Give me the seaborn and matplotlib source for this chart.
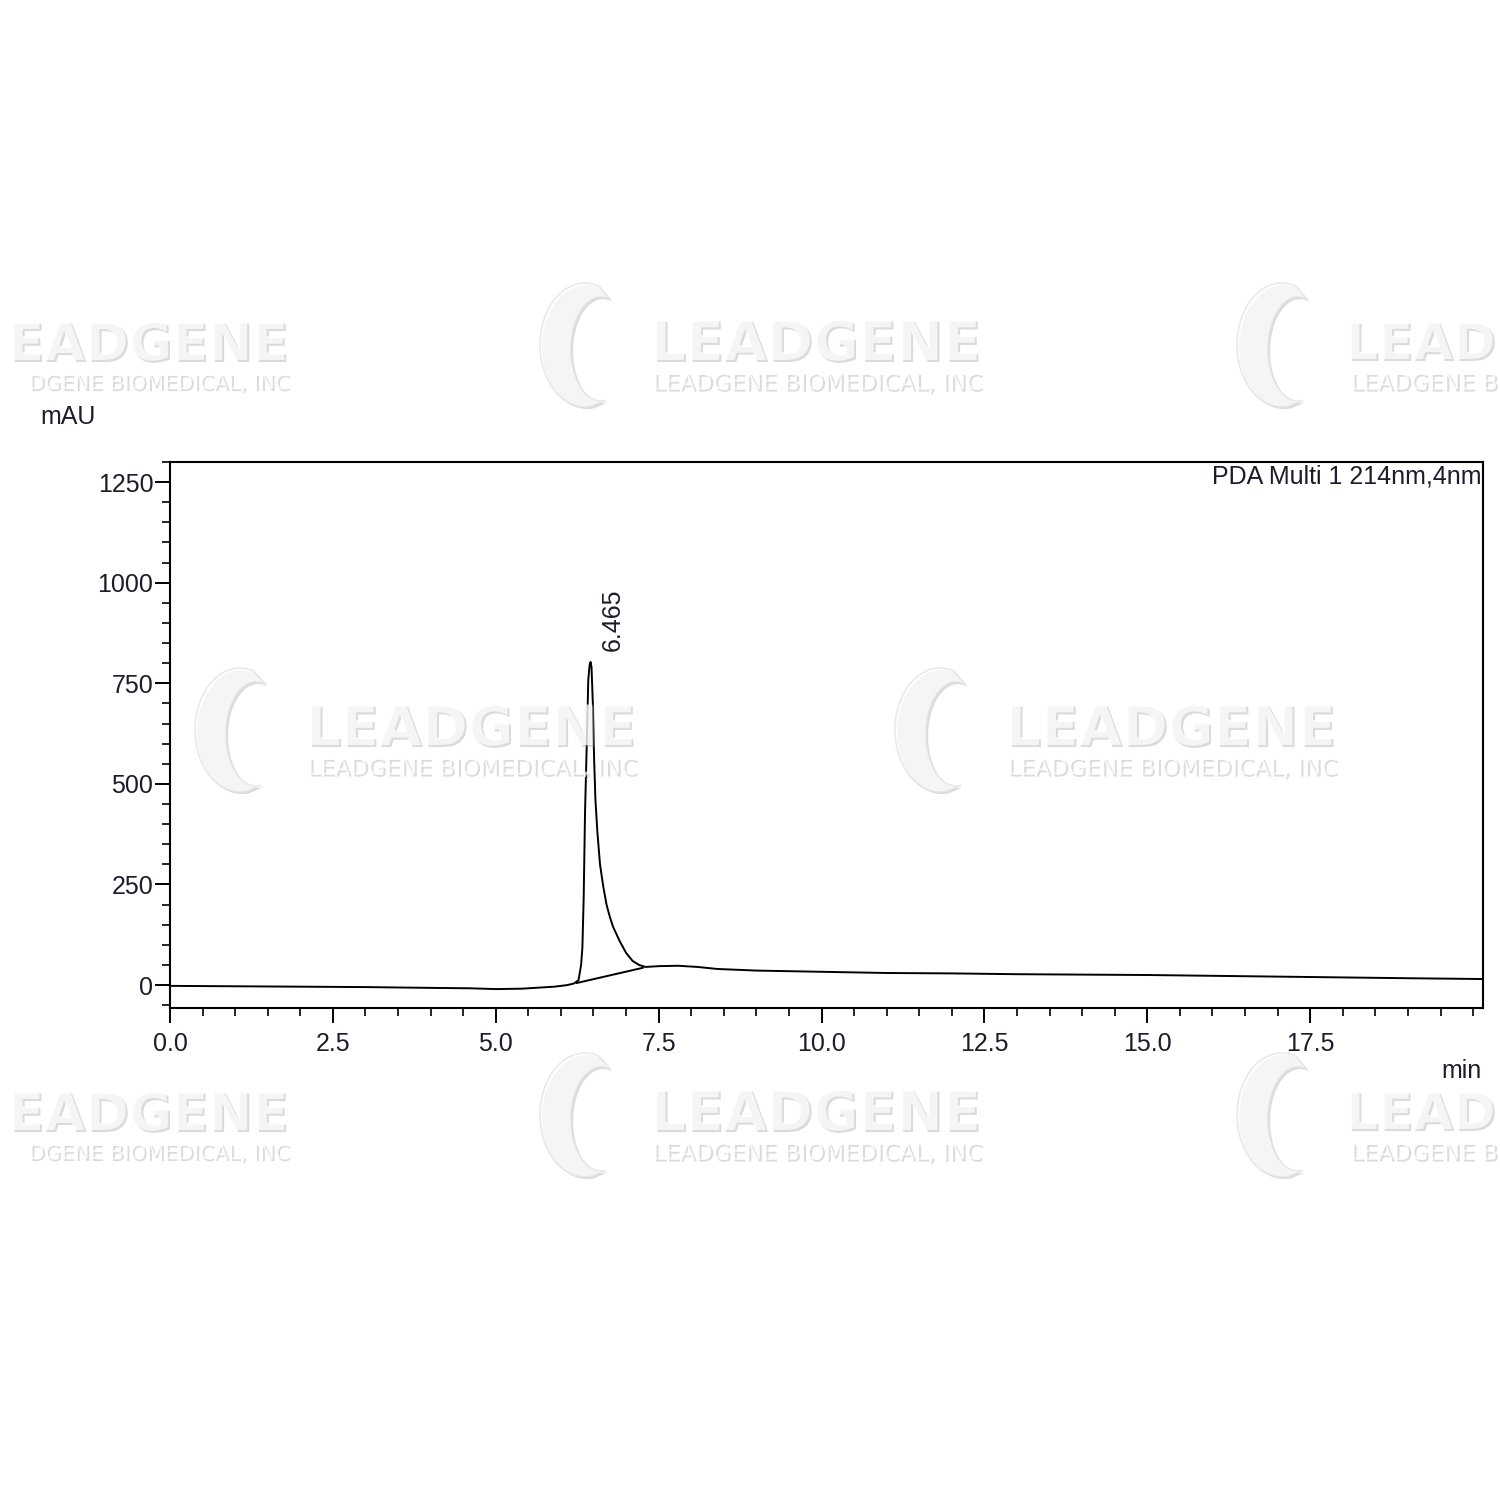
import numpy as np
import pandas as pd
import matplotlib
matplotlib.use("Agg")
import matplotlib.pyplot as plt
import matplotlib.patheffects as pe
from matplotlib.patches import Polygon
from matplotlib.ticker import MultipleLocator, FormatStrFormatter
import seaborn as sns

# chromatogram (time in min, signal in mAU)
time_min = [0.0, 1.0, 2.0, 3.0, 4.0, 4.6, 5.0, 5.4, 5.7, 5.9, 6.1, 6.2, 6.27,
            6.31, 6.33, 6.35, 6.37, 6.40, 6.42, 6.44, 6.455, 6.47, 6.49, 6.51,
            6.53, 6.56, 6.60, 6.65, 6.70, 6.75, 6.80, 6.90, 7.00, 7.10, 7.20,
            7.30, 7.50, 7.80, 8.10, 8.40, 9.0, 10.0, 11.0, 12.0, 13.0, 14.0,
            15.0, 16.0, 17.0, 18.0, 19.0, 20.15]
signal_mau = [-2, -3, -4, -5, -7, -8, -10, -9, -6, -4, 0, 4, 12,
              50, 94, 220, 427, 620, 758, 795, 803, 790, 700, 560,
              460, 380, 300, 245, 200, 170, 145, 110, 80, 60, 50,
              45, 47, 48, 45, 40, 36, 33, 30, 29, 27, 26,
              25, 23, 21, 19, 17, 15]

# integration baseline under the peak
base_time = [6.24, 7.26]
base_mau = [5, 43]

peak_rt = "6.465"
channel = "PDA Multi 1 214nm,4nm"

df = pd.DataFrame({"time": time_min, "mAU": signal_mau})
bl = pd.DataFrame({"time": base_time, "mAU": base_mau})

sns.set_style("ticks")
plt.rcParams["font.family"] = ["Liberation Sans", "DejaVu Sans"]

fig = plt.figure(figsize=(15, 15), dpi=100)
ax = fig.add_axes([0.1133, 0.328, 0.8753, 0.364])

sns.lineplot(data=df, x="time", y="mAU", ax=ax, color="black", linewidth=1.4, sort=False)
sns.lineplot(data=bl, x="time", y="mAU", ax=ax, color="black", linewidth=1.4, sort=False)

ax.set_xlim(0, 20.15)
ax.set_ylim(-57, 1300)
ax.xaxis.set_minor_locator(MultipleLocator(0.5))
ax.yaxis.set_major_locator(MultipleLocator(250))
ax.yaxis.set_minor_locator(MultipleLocator(50))
ax.set_xticks([0, 2.5, 5, 7.5, 10, 12.5, 15, 17.5])
ax.xaxis.set_major_formatter(FormatStrFormatter("%.1f"))
ax.yaxis.set_major_formatter(FormatStrFormatter("%d"))

ax.tick_params(which="major", direction="out", length=11, width=1.4, labelsize=18,
               colors="black", labelcolor="#1c1c2c")
ax.tick_params(axis="y", which="major", pad=1)
ax.tick_params(axis="x", which="major", pad=6)
ax.tick_params(which="minor", direction="out", length=6, width=1.4)
for s in ax.spines.values():
    s.set_visible(True)
    s.set_linewidth(1.5)
    s.set_color("black")

ax.set_xlabel("")
ax.set_ylabel("")

ax.text(6.79, 830, peak_rt, rotation=90, ha="center", va="bottom", fontsize=18, color="#1c1c2c")
ax.text(0.999, 0.995, channel, transform=ax.transAxes, ha="right", va="top",
        fontsize=18, color="#1c1c2c")

fig.text(40 / 1500, 1 - 417 / 1500, "mAU", ha="left", va="center", fontsize=18, color="#1c1c2c")
fig.text(1482 / 1500, 1 - 1071 / 1500, "min", ha="right", va="center", fontsize=18, color="#1c1c2c")

# faint LEADGENE watermarks (white with a soft grey shadow, semi-transparent)
shadow = [pe.SimplePatchShadow(offset=(1.5, -1.5), shadow_rgbFace="#9a9a9a", alpha=0.35), pe.Normal()]


def wm_text(x, y, s, size, weight="bold", ha="left"):
    fig.text(x / 1500, 1 - y / 1500, s, ha=ha, va="center", fontsize=size, fontweight=weight,
             family="DejaVu Sans", color="white", path_effects=shadow, alpha=0.75, zorder=10)


def wm_logo(cx, cy):
    t1 = np.linspace(np.pi * 0.45, np.pi * 1.6, 40)
    t2 = t1[::-1]
    ox = cx + 45 * np.cos(t1)
    oy = cy + 62 * np.sin(t1)
    ix = cx + 16 + 30 * np.cos(t2)
    iy = cy + 4 + 52 * np.sin(t2)
    pts = np.column_stack([np.r_[ox, ix] / 1500, 1 - np.r_[oy, iy] / 1500])
    fig.patches.append(Polygon(pts, closed=True, transform=fig.transFigure, facecolor="white",
                               edgecolor="#e2e2e2", linewidth=1.2, path_effects=shadow,
                               alpha=0.75, zorder=9))


for y in [345, 1115]:
    wm_text(288, y, "EADGENE", 38, ha="right")
    wm_text(288, y + 38, "DGENE BIOMEDICAL, INC", 15, weight="normal", ha="right")
    wm_logo(585, y)
    wm_text(650, y, "LEADGENE", 40)
    wm_text(652, y + 38, "LEADGENE BIOMEDICAL, INC", 16.5, weight="normal")
    wm_logo(1282, y)
    wm_text(1345, y, "LEAD", 37)
    wm_text(1350, y + 38, "LEADGENE B", 16.5, weight="normal")

for x in [305, 1005]:
    wm_logo(x - 65, 730)
    wm_text(x, 730, "LEADGENE", 40)
    wm_text(x + 2, 768, "LEADGENE BIOMEDICAL, INC", 16.5, weight="normal")

fig.savefig("out.png", dpi=100, facecolor="white")
